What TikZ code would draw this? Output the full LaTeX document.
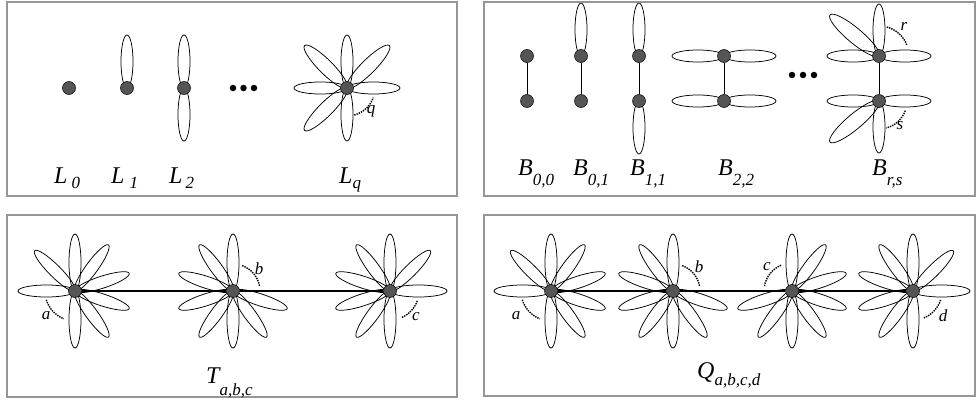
\documentclass[tikz,border=0pt]{standalone}
\usepackage{fontspec}
\setmainfont{Liberation Serif}
\definecolor{boxgray}{RGB}{150,150,150}
\definecolor{vtxgray}{RGB}{85,85,85}
\pgfdeclarelayer{bg}
\pgfsetlayers{bg,main}
\newcommand\petal[4]{\begin{scope}[shift={(#1)},rotate=#2]\draw[petalst] (#3/2,0) ellipse[x radius=#3/2, y radius=#4];\end{scope}}
\newcommand\petals[4]{\foreach \a in {#4}{\petal{#1}{\a}{#2}{#3}}}
\newcommand\subs[2]{\raisebox{-#1pt}{\fontsize{17}{17}\selectfont #2}}
\begin{document}
\begin{tikzpicture}[x=1pt,y=1pt,
  boxst/.style={draw=boxgray,line width=2pt},
  vtx/.style={circle,fill=vtxgray,draw=black,line width=0.5pt,inner sep=0pt,minimum size=13pt},
  dotst/.style={circle,fill=black,inner sep=0pt,minimum size=6.5pt},
  petalst/.style={draw=black,line width=0.75pt},
  edgest/.style={draw=black,line width=0.9pt},
  thickedge/.style={draw=black,line width=1.4pt},
  dotarc/.style={draw=black,line width=1.4pt,densely dotted},
  lab/.style={inner sep=0pt,anchor=base west,font=\fontsize{24}{24}\selectfont\itshape},
  sm/.style={inner sep=0pt,font=\fontsize{17}{17}\selectfont\itshape}]
\useasboundingbox (0,0) rectangle (977,400);
% panels
\draw[boxst] (7,204) rectangle (457,398);
\draw[boxst] (484,204) rectangle (975,398);
\draw[boxst] (7,3) rectangle (457,185);
\draw[boxst] (484,4) rectangle (975,185);
% vertices top-left
\node[vtx] (l0) at (69,312) {};
\node[vtx] (l1) at (127,312) {};
\node[vtx] (l2) at (184,312) {};
\node[vtx] (lq) at (347,312) {};
\node[dotst] (da1) at (233,312) {};
\node[dotst] (da2) at (243.5,312) {};
\node[dotst] (da3) at (254,312) {};
% vertices top-right
\node[vtx] (b00t) at (527,344) {};
\node[vtx] (b00b) at (527,299) {};
\node[vtx] (b01t) at (581,344) {};
\node[vtx] (b01b) at (581,299) {};
\node[vtx] (b11t) at (639,344) {};
\node[vtx] (b11b) at (639,299) {};
\node[vtx] (b22t) at (724,344) {};
\node[vtx] (b22b) at (724,299) {};
\node[dotst] (db1) at (792,325) {};
\node[dotst] (db2) at (803,325) {};
\node[dotst] (db3) at (814,325) {};
\node[vtx] (brst) at (879,344) {};
\node[vtx] (brsb) at (879,299) {};
% vertices bottom
\node[vtx] (t1) at (75,109) {};
\node[vtx] (t2) at (233,109) {};
\node[vtx] (t3) at (390,109) {};
\node[vtx] (q1) at (551,109) {};
\node[vtx] (q2) at (673,109) {};
\node[vtx] (q3) at (792,109) {};
\node[vtx] (q4) at (913,109) {};
\begin{pgfonlayer}{bg}
\petals{l1}{53}{6}{90}
\petals{l2}{53}{6}{90,270}
\petals{lq}{53}{6}{0,90,180,270}
\petals{lq}{60}{7}{45,135,225}
\petals{b01t}{53}{6}{90}
\petals{b11t}{53}{6}{90}
\petals{b11b}{53}{6}{270}
\petals{b22t}{52}{6}{0,180}
\petals{b22b}{52}{6}{0,180}
\petals{brst}{52}{6}{0,90,180}
\petals{brst}{64}{7.5}{140}
\petals{brsb}{52}{6}{0,180,270}
\petals{brsb}{64}{7.5}{220}
\petals{t1}{57}{6}{90,135,180,270,54,18,-18,-54}
\petals{t2}{57}{6}{90,126,162,198,234,270,306,342}
\petals{t3}{57}{6}{0,45,90,126,162,198,234,270}
\petals{q1}{57}{6}{90,135,180,270,54,18,-18,-54}
\petals{q2}{57}{6}{90,126,162,198,234,270,306,342}
\petals{q3}{57}{6}{90,54,18,-18,-54,270,234,198}
\petals{q4}{57}{6}{0,45,90,126,162,198,234,270}
\draw[edgest] (b00t) -- (b00b);
\draw[edgest] (b01t) -- (b01b);
\draw[edgest] (b11t) -- (b11b);
\draw[edgest] (b22t) -- (b22b);
\draw[edgest] (brst) -- (brsb);
\draw[thickedge] (t1) -- (t2);
\draw[thickedge] (t2) -- (t3);
\draw[thickedge] (q1) -- (q2);
\draw[thickedge] (q2) -- (q3);
\draw[thickedge] (q3) -- (q4);
\end{pgfonlayer}
% dotted arcs
\draw[dotarc] ([shift={(-75:28)}]lq.center) arc[start angle=-75,end angle=-20,radius=28];
\draw[dotarc] ([shift={(75:30)}]brst.center) arc[start angle=75,end angle=20,radius=30];
\draw[dotarc] ([shift={(-20:28)}]brsb.center) arc[start angle=-20,end angle=-75,radius=28];
\draw[dotarc] ([shift={(197:30)}]t1.center) arc[start angle=197,end angle=248,radius=30];
\draw[dotarc] ([shift={(70:27)}]t2.center) arc[start angle=70,end angle=9,radius=27];
\draw[dotarc] ([shift={(-20:29)}]t3.center) arc[start angle=-20,end angle=-67,radius=29];
\draw[dotarc] ([shift={(197:30)}]q1.center) arc[start angle=197,end angle=248,radius=30];
\draw[dotarc] ([shift={(70:27)}]q2.center) arc[start angle=70,end angle=9,radius=27];
\draw[dotarc] ([shift={(170:28)}]q3.center) arc[start angle=170,end angle=113,radius=28];
\draw[dotarc] ([shift={(-18:29)}]q4.center) arc[start angle=-18,end angle=-68,radius=29];
% arc labels
\node[sm] (lbq) at (371,289) {q};
\node[sm] (lbr) at (904,374) {r};
\node[sm] (lbs) at (900,274) {s};
\node[sm] (lta) at (46,84) {a};
\node[sm] (ltb) at (259,131) {b};
\node[sm] (ltc) at (416,83) {c};
\node[sm] (lqa) at (516,84) {a};
\node[sm] (lqb) at (699,133) {b};
\node[sm] (lqc) at (767,133) {c};
\node[sm] (lqd) at (943,84) {d};
% graph names
\node[lab] (nl0) at (54,217) {L\kern4pt\subs{5}{0}};
\node[lab] (nl1) at (111,217) {L\kern5pt\subs{5}{1}};
\node[lab] (nl2) at (169,217) {L\kern3pt\subs{5}{2}};
\node[lab] (nlq) at (339,217) {L\kern0pt\subs{5}{q}};
\node[lab] (nb00) at (518,225) {B\subs{10}{0,0}};
\node[lab] (nb01) at (573,225) {B\subs{10}{0,1}};
\node[lab] (nb11) at (630,225) {B\subs{10}{1,1}};
\node[lab] (nb22) at (718,225) {B\subs{10}{2,2}};
\node[lab] (nbrs) at (872,225) {B\subs{10}{r,s}};
\node[lab] (nt) at (206,17) {T\subs{12}{a,b,c}};
\node[lab] (nq) at (697,22) {Q\subs{7}{a,b,c,d}};
\end{tikzpicture}
\end{document}
